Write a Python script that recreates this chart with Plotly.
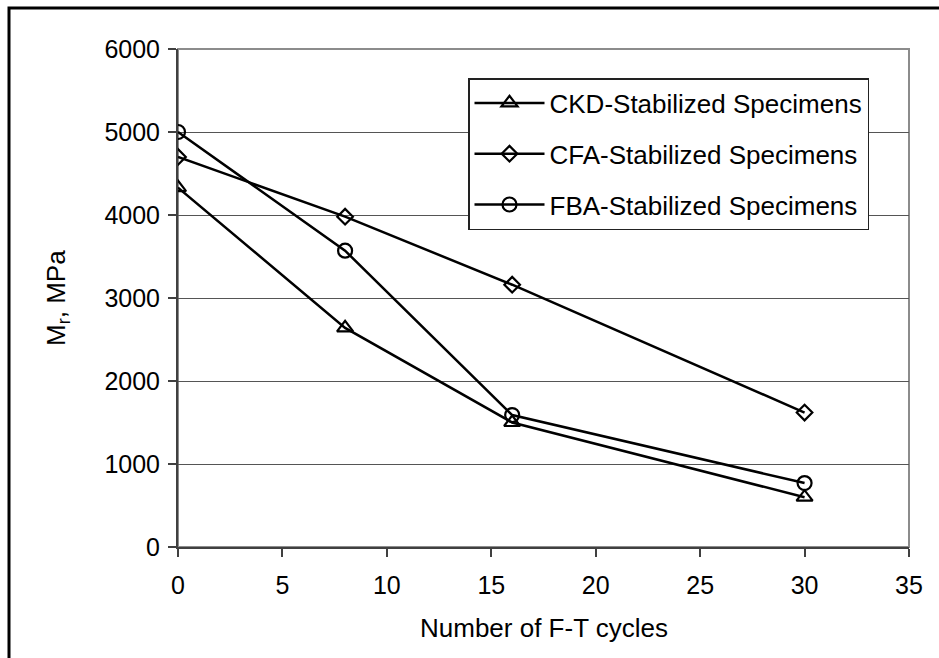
import plotly.graph_objects as go

# Resilient modulus after freeze-thaw cycling
cycles = [0, 8, 16, 30]
ckd_mr = [4330, 2640, 1500, 600]
cfa_mr = [4700, 3980, 3160, 1620]
fba_mr = [5000, 3570, 1590, 770]

series_names = [
    "CKD-Stabilized Specimens",
    "CFA-Stabilized Specimens",
    "FBA-Stabilized Specimens",
]
x_ticks = [0, 5, 10, 15, 20, 25, 30, 35]
y_ticks = [0, 1000, 2000, 3000, 4000, 5000, 6000]

FONT = "Liberation Sans, Arial, sans-serif"
W, H = 939, 658
ML, MR, MT, MB = 178, 30, 49, 111
PW, PH = W - ML - MR, H - MT - MB


def px_x(p):
    return (p - ML) / PW


def px_y(p):
    return (H - MB - p) / PH


fig = go.Figure()
for name, vals, sym, size in [
    (series_names[0], ckd_mr, "triangle-up-open", 14),
    (series_names[1], cfa_mr, "diamond-open", 12),
    (series_names[2], fba_mr, "circle-open", 14),
]:
    fig.add_trace(go.Scatter(
        x=cycles, y=vals, name=name, mode="lines+markers",
        legendgroup=name,
        line=dict(color="black", width=2.5),
        marker=dict(symbol=sym, size=size, color="black",
                    line=dict(color="black", width=2.2)),
    ))

axis_common = dict(
    showline=True, linecolor="#404040", linewidth=2,
    ticks="outside", ticklen=8, tickcolor="#404040", tickwidth=1.5,
    tickfont=dict(family=FONT, size=25, color="black"),
    zeroline=False,
)

fig.update_xaxes(range=[0, 35], tickvals=x_ticks, showgrid=False,
                 ticklabelstandoff=7, **axis_common)
fig.update_yaxes(range=[0, 6000], tickvals=y_ticks, showgrid=True,
                 gridcolor="#555555", gridwidth=1, ticklabelstandoff=3,
                 **axis_common)

fig.update_layout(
    width=W, height=H,
    margin=dict(l=ML, r=MR, t=MT, b=MB),
    paper_bgcolor="white", plot_bgcolor="white",
    font=dict(family=FONT, color="black"),
    showlegend=True,
    legend=dict(
        x=px_x(468), y=px_y(78), xanchor="left", yanchor="top",
        bgcolor="white", bordercolor="#222222", borderwidth=1.5,
        font=dict(family=FONT, size=26, color="black"),
        traceorder="grouped", tracegroupgap=14,
        itemwidth=70, entrywidth=415, entrywidthmode="pixels",
    ),
    shapes=[
        # grey frame around the plotting area
        dict(type="rect", xref="paper", yref="paper", x0=0, x1=1, y0=0, y1=1,
             line=dict(color="#8c8c8c", width=2), layer="below"),
        # outer chart border
        dict(type="rect", xref="paper", yref="paper",
             x0=px_x(9), x1=px_x(1010), y0=px_y(720), y1=px_y(8),
             line=dict(color="black", width=3)),
    ],
    annotations=[
        dict(text="Number of F-T cycles", xref="paper", yref="paper",
             x=0.5, y=px_y(628), xanchor="center", yanchor="middle",
             showarrow=False, font=dict(family=FONT, size=26, color="black")),
        dict(text="M<sub>r</sub>, MPa", xref="paper", yref="paper",
             x=px_x(57), y=0.5, xanchor="center", yanchor="middle",
             textangle=-90, showarrow=False,
             font=dict(family=FONT, size=26, color="black")),
    ],
)

fig.write_html("out.html")
